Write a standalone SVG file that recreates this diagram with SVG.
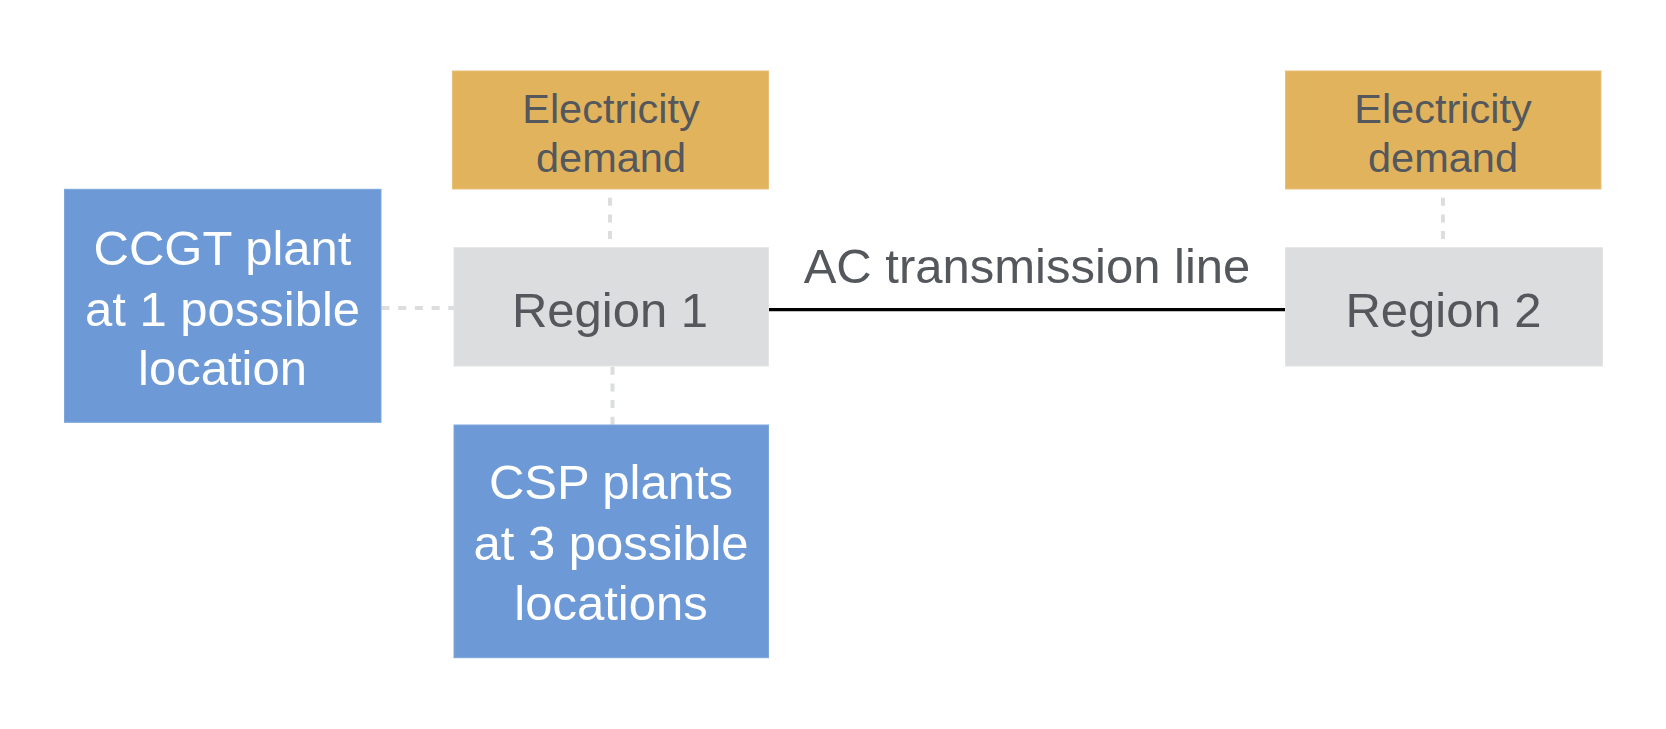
<svg xmlns="http://www.w3.org/2000/svg" width="1666" height="729" viewBox="0 0 1666 729">
<style>
.blue{fill:#6D9AD6;stroke:#7EA6DB;stroke-width:1}
.gold{fill:#E2B35D;stroke:#E8C07A;stroke-width:1}
.gray{fill:#DCDDDE;stroke:#E3E4E5;stroke-width:1}
.t{font-family:"Liberation Sans",Arial,sans-serif;text-anchor:middle}
.dark{fill:#54575C}
.white{fill:#FFFFFF}
.dash{stroke:#DCDDDE;stroke-width:4;stroke-dasharray:8 8.7;fill:none}
</style>
<rect width="1666" height="729" fill="#FFFFFF"/>
<g id="connectors">
<line class="dash" x1="610" y1="197.7" x2="610" y2="247.7"/>
<line class="dash" x1="381.5" y1="308" x2="454" y2="308"/>
<line class="dash" x1="612.5" y1="366.7" x2="612.5" y2="425"/>
<line class="dash" x1="1443" y1="197.7" x2="1443" y2="247.7"/>
<line x1="768.5" y1="309.7" x2="1285.5" y2="309.7" stroke="#000000" stroke-width="3.2"/>
<text class="t dark" x="1027" y="283" font-size="49">AC transmission line</text>
</g>
<g id="demand1">
<rect class="gold" x="452.5" y="71" width="316" height="118"/>
<text class="t dark" x="611" y="123" font-size="41.5">Electricity</text>
<text class="t dark" x="611" y="172" font-size="41.5">demand</text>
</g>
<g id="region1">
<rect class="gray" x="454" y="247.7" width="314.5" height="118.3"/>
<text class="t dark" x="610" y="327" font-size="49">Region 1</text>
</g>
<g id="ccgt">
<rect class="blue" x="64.5" y="189.3" width="316.5" height="233"/>
<text class="t white" x="222.5" y="265" font-size="49">CCGT plant</text>
<text class="t white" x="222.5" y="325.5" font-size="49">at 1 possible</text>
<text class="t white" x="222.5" y="385" font-size="49">location</text>
</g>
<g id="csp">
<rect class="blue" x="454" y="425" width="314.5" height="232.7"/>
<text class="t white" x="611" y="499" font-size="49">CSP plants</text>
<text class="t white" x="611" y="560" font-size="49">at 3 possible</text>
<text class="t white" x="611" y="620" font-size="49">locations</text>
</g>
<g id="demand2">
<rect class="gold" x="1285.5" y="71" width="315.5" height="118"/>
<text class="t dark" x="1443" y="123" font-size="41.5">Electricity</text>
<text class="t dark" x="1443" y="172" font-size="41.5">demand</text>
</g>
<g id="region2">
<rect class="gray" x="1285.5" y="247.7" width="317" height="118.3"/>
<text class="t dark" x="1443.5" y="327" font-size="49">Region 2</text>
</g>
</svg>
